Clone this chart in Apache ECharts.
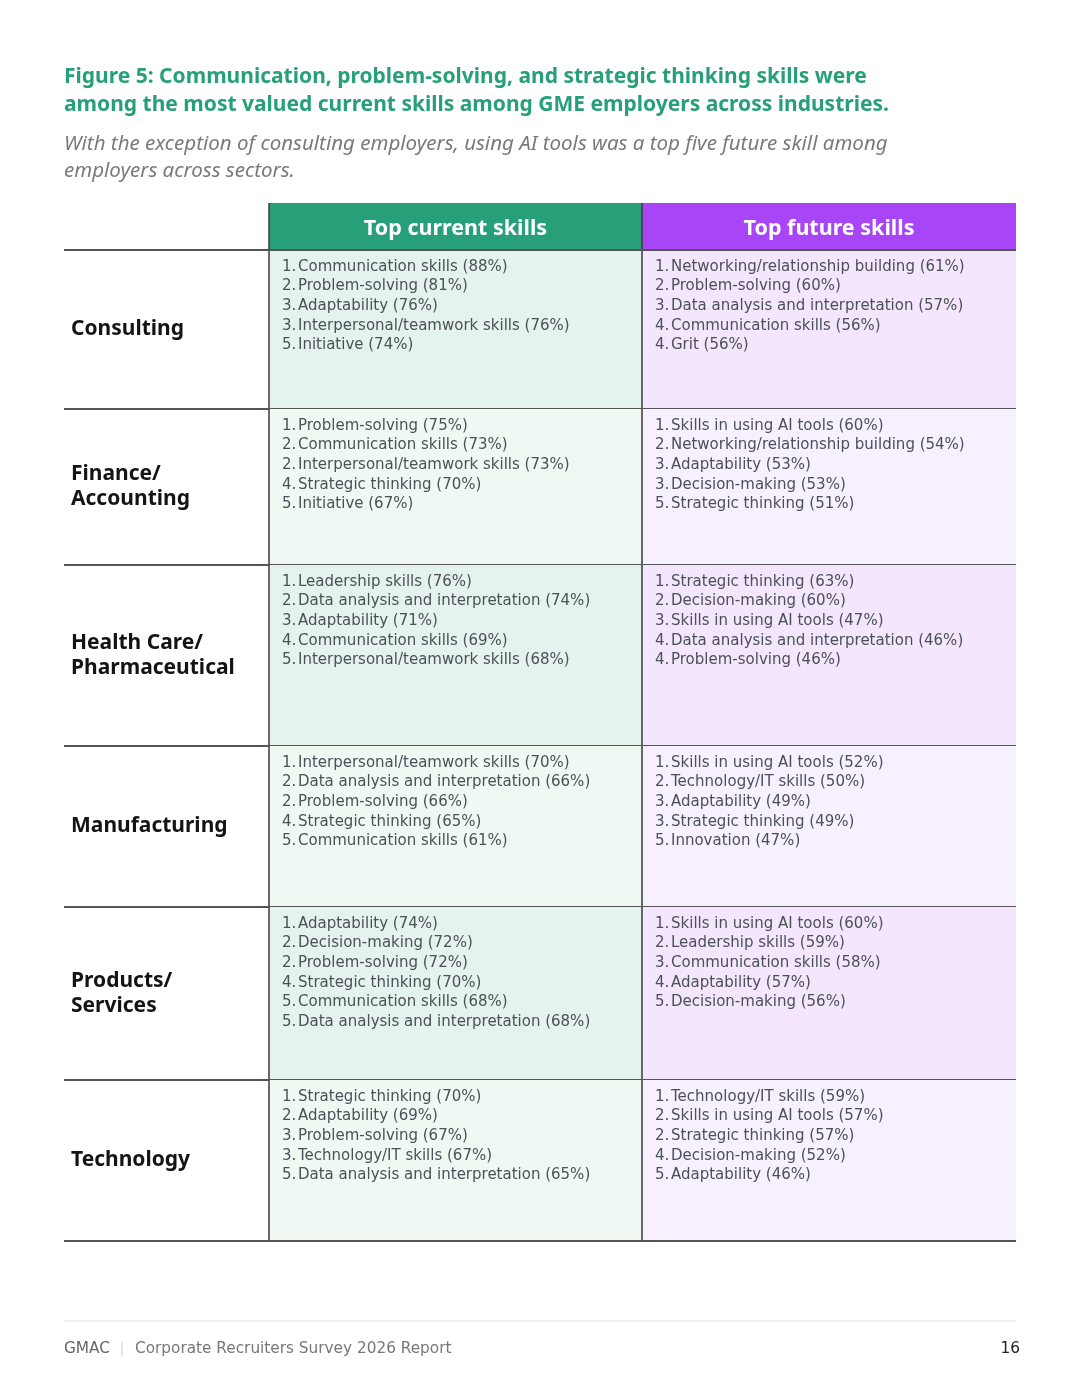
<!DOCTYPE html>
<html>
<head>
<meta charset="utf-8">
<script src="https://cdn.jsdelivr.net/npm/echarts@6/dist/echarts.min.js"></script>
<style>
  html, body { margin: 0; padding: 0; background: #fff; }
  #chart { width: 1080px; height: 1398px; }
</style>
</head>
<body>
<div id="chart"></div>
<script>
// rows of the table
let industries = ['Consulting', 'Finance/\nAccounting', 'Health Care/\nPharmaceutical', 'Manufacturing', 'Products/\nServices', 'Technology'];
let columnTitles = ['Top current skills', 'Top future skills'];

// [rank, skill, percent]
let consultingCurrent = [[1, 'Communication skills', 88], [2, 'Problem-solving', 81], [3, 'Adaptability', 76], [3, 'Interpersonal/teamwork skills', 76], [5, 'Initiative', 74]];
let consultingFuture = [[1, 'Networking/relationship building', 61], [2, 'Problem-solving', 60], [3, 'Data analysis and interpretation', 57], [4, 'Communication skills', 56], [4, 'Grit', 56]];
let financeCurrent = [[1, 'Problem-solving', 75], [2, 'Communication skills', 73], [2, 'Interpersonal/teamwork skills', 73], [4, 'Strategic thinking', 70], [5, 'Initiative', 67]];
let financeFuture = [[1, 'Skills in using AI tools', 60], [2, 'Networking/relationship building', 54], [3, 'Adaptability', 53], [3, 'Decision-making', 53], [5, 'Strategic thinking', 51]];
let healthCurrent = [[1, 'Leadership skills', 76], [2, 'Data analysis and interpretation', 74], [3, 'Adaptability', 71], [4, 'Communication skills', 69], [5, 'Interpersonal/teamwork skills', 68]];
let healthFuture = [[1, 'Strategic thinking', 63], [2, 'Decision-making', 60], [3, 'Skills in using AI tools', 47], [4, 'Data analysis and interpretation', 46], [4, 'Problem-solving', 46]];
let manufacturingCurrent = [[1, 'Interpersonal/teamwork skills', 70], [2, 'Data analysis and interpretation', 66], [2, 'Problem-solving', 66], [4, 'Strategic thinking', 65], [5, 'Communication skills', 61]];
let manufacturingFuture = [[1, 'Skills in using AI tools', 52], [2, 'Technology/IT skills', 50], [3, 'Adaptability', 49], [3, 'Strategic thinking', 49], [5, 'Innovation', 47]];
let productsCurrent = [[1, 'Adaptability', 74], [2, 'Decision-making', 72], [2, 'Problem-solving', 72], [4, 'Strategic thinking', 70], [5, 'Communication skills', 68], [5, 'Data analysis and interpretation', 68]];
let productsFuture = [[1, 'Skills in using AI tools', 60], [2, 'Leadership skills', 59], [3, 'Communication skills', 58], [4, 'Adaptability', 57], [5, 'Decision-making', 56]];
let technologyCurrent = [[1, 'Strategic thinking', 70], [2, 'Adaptability', 69], [3, 'Problem-solving', 67], [3, 'Technology/IT skills', 67], [5, 'Data analysis and interpretation', 65]];
let technologyFuture = [[1, 'Technology/IT skills', 59], [2, 'Skills in using AI tools', 57], [2, 'Strategic thinking', 57], [4, 'Decision-making', 52], [5, 'Adaptability', 46]];

let currentSkills = [consultingCurrent, financeCurrent, healthCurrent, manufacturingCurrent, productsCurrent, technologyCurrent];
let futureSkills = [consultingFuture, financeFuture, healthFuture, manufacturingFuture, productsFuture, technologyFuture];

// layout (table units = px inside the grid)
let rowHeights = [159, 156, 181, 161, 173, 161];
let colEdges = [0, 205, 578, 952];
let headerHeight = 47;

const GREEN = '#27a07a';
const PURPLE = '#a845f7';
const FONT = '"Noto Sans", "Open Sans", sans-serif';
const CELL_FONT = '15px "DejaVu Sans", sans-serif';

let rowTops = [];
let acc = 0;
rowHeights.forEach(h => { rowTops.push(acc); acc += h; });
let tableHeight = acc;

let myChart = echarts.init(document.getElementById('chart'), null, {renderer: 'canvas'});

function skillLines(list, x0, y0, api) {
    let out = [];
    list.forEach((s, k) => {
        let p = api.coord([x0, y0 + 17 + k * 19.6]);
        out.push({
            type: 'text',
            style: {x: p[0], y: p[1], text: s[0] + '.', fill: '#4c5157', font: CELL_FONT, verticalAlign: 'middle'}
        });
        out.push({
            type: 'text',
            style: {x: p[0] + 16, y: p[1], text: s[1] + ' (' + s[2] + '%)', fill: '#4c5157', font: CELL_FONT, verticalAlign: 'middle'}
        });
    });
    return out;
}

function renderRow(params, api) {
    let i = api.value(0);
    let top = rowTops[i];
    let bottom = top + rowHeights[i];
    let odd = i % 2 === 0;
    let tl = api.coord([colEdges[1], top]);
    let br = api.coord([colEdges[3], bottom]);
    let mid = api.coord([colEdges[2], top]);
    let left = api.coord([colEdges[0], bottom]);
    let labelPos = api.coord([colEdges[0] + 7, (top + bottom) / 2]);
    let children = [
        {type: 'rect', shape: {x: tl[0], y: tl[1], width: mid[0] - tl[0], height: br[1] - tl[1]},
            style: {fill: odd ? '#e4f3ed' : '#f0f8f4'}},
        {type: 'rect', shape: {x: mid[0], y: tl[1], width: br[0] - mid[0], height: br[1] - tl[1]},
            style: {fill: odd ? '#f3e6fd' : '#f7f0fe'}},
        {type: 'line', shape: {x1: tl[0], y1: tl[1], x2: tl[0], y2: br[1]}, style: {stroke: '#3a3a3a', lineWidth: 1.5}},
        {type: 'line', shape: {x1: mid[0], y1: tl[1], x2: mid[0], y2: br[1]}, style: {stroke: '#3a3a3a', lineWidth: 1.5}},
        {type: 'line', shape: {x1: left[0], y1: br[1], x2: br[0], y2: br[1]}, style: {stroke: '#555', lineWidth: 2}},
        {type: 'text', style: {x: labelPos[0], y: labelPos[1], text: industries[i], fill: '#141414',
            font: 'bold 21px ' + FONT, lineHeight: 25, verticalAlign: 'middle'}}
    ];
    children = children.concat(skillLines(currentSkills[i], colEdges[1] + 13, top, api));
    children = children.concat(skillLines(futureSkills[i], colEdges[2] + 13, top, api));
    return {type: 'group', children: children};
}

function renderHeader(params, api) {
    let a = api.coord([colEdges[1], -headerHeight]);
    let m = api.coord([colEdges[2], 0]);
    let b = api.coord([colEdges[3], 0]);
    let l = api.coord([colEdges[0], 0]);
    return {
        type: 'group',
        children: [
            {type: 'rect', shape: {x: a[0], y: a[1], width: m[0] - a[0], height: m[1] - a[1]}, style: {fill: GREEN}},
            {type: 'rect', shape: {x: m[0], y: a[1], width: b[0] - m[0], height: m[1] - a[1]}, style: {fill: PURPLE}},
            {type: 'text', style: {x: (a[0] + m[0]) / 2, y: (a[1] + m[1]) / 2 + 2, text: columnTitles[0], fill: '#fff',
                font: 'bold 21.5px ' + FONT, align: 'center', verticalAlign: 'middle'}},
            {type: 'text', style: {x: (m[0] + b[0]) / 2, y: (a[1] + m[1]) / 2 + 2, text: columnTitles[1], fill: '#fff',
                font: 'bold 21.5px ' + FONT, align: 'center', verticalAlign: 'middle'}},
            {type: 'line', shape: {x1: a[0], y1: a[1], x2: a[0], y2: m[1]}, style: {stroke: '#3a3a3a', lineWidth: 1.5}},
            {type: 'line', shape: {x1: m[0], y1: a[1], x2: m[0], y2: m[1]}, style: {stroke: '#3a3a3a', lineWidth: 1.5}},
            {type: 'line', shape: {x1: l[0], y1: m[1], x2: b[0], y2: m[1]}, style: {stroke: '#555', lineWidth: 2}}
        ]
    };
}

myChart.setOption({
    animation: false,
    title: [{
        text: 'Figure 5: Communication, problem-solving, and strategic thinking skills were\namong the most valued current skills among GME employers across industries.',
        left: 64, top: 63, padding: 0,
        textStyle: {color: GREEN, fontFamily: FONT, fontWeight: 'bold', fontSize: 21, lineHeight: 28},
        subtext: 'With the exception of consulting employers, using AI tools was a top five future skill among\nemployers across sectors.',
        subtextStyle: {color: '#7a7a7a', fontFamily: FONT, fontStyle: 'italic', fontSize: 20.5, lineHeight: 27},
        itemGap: 12
    }],
    grid: {left: 64, top: 250, width: colEdges[3], height: tableHeight},
    xAxis: {type: 'value', min: 0, max: colEdges[3], show: false},
    yAxis: {type: 'value', min: 0, max: tableHeight, inverse: true, show: false},
    series: [
        {type: 'custom', renderItem: renderRow, data: industries.map((d, i) => [i])},
        {type: 'custom', renderItem: renderHeader, data: [[0]]}
    ],
    graphic: [
        {type: 'line', shape: {x1: 64, y1: 1321, x2: 1016, y2: 1321}, style: {stroke: '#e2e2e2', lineWidth: 1}},
        {type: 'text', left: 64, top: 1342, style: {text: 'GMAC', fill: '#666', font: '15.3px "DejaVu Sans", sans-serif'}},
        {type: 'line', shape: {x1: 122, y1: 1342, x2: 122, y2: 1357}, style: {stroke: '#ccc', lineWidth: 1}},
        {type: 'text', left: 135, top: 1342, style: {text: 'Corporate Recruiters Survey 2026 Report', fill: '#777', font: '15.3px "DejaVu Sans", sans-serif'}},
        {type: 'text', right: 60, top: 1342, style: {text: '16', fill: '#222', font: '15.3px "DejaVu Sans", sans-serif'}}
    ]
});
</script>
</body>
</html>
